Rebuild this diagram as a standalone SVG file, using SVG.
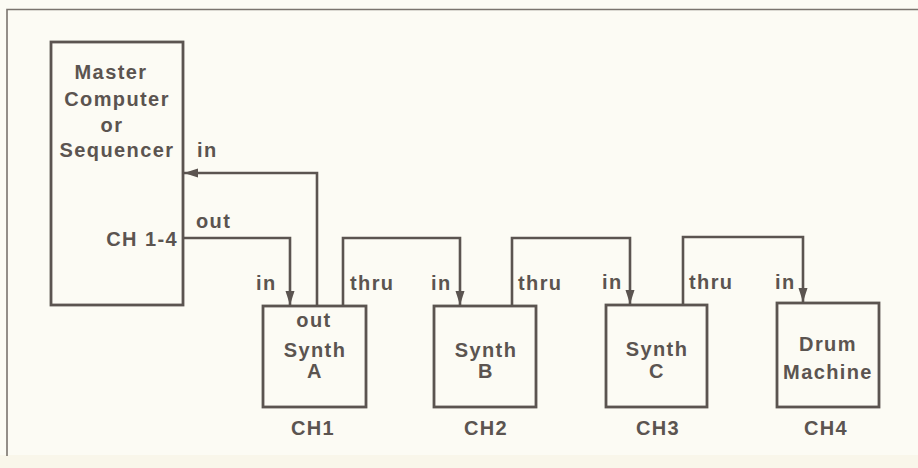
<svg xmlns="http://www.w3.org/2000/svg" width="918" height="468" viewBox="0 0 918 468">
<defs>
<style>
.bg{fill:#fcfbf4}
.frame{fill:none;stroke:#7a746e;stroke-width:1.6}
.box{fill:none;stroke:#5b5450;stroke-width:2.8}
.wire{fill:none;stroke:#5b5450;stroke-width:2.6;stroke-linejoin:miter}
text{font-family:"Liberation Sans",Arial,sans-serif;font-weight:bold;font-size:20px;fill:#5b5450;letter-spacing:1.4px}
.c{text-anchor:middle}
.e{text-anchor:end}
</style>
<marker id="ah" markerUnits="userSpaceOnUse" markerWidth="15" markerHeight="10" refX="14" refY="4.5" orient="auto">
<path d="M0,0 L14,4.5 L0,9 Z" fill="#5b5450"/>
</marker>
</defs>
<rect class="bg" x="0" y="0" width="918" height="468"/>
<rect x="0" y="455" width="918" height="13" fill="#f9f6ea"/>
<path class="frame" d="M7,456 L7,9.5 L918,9.5"/>

<g id="connectors">
<path class="wire" d="M183,238 L290,238 L290,305" marker-end="url(#ah)"/>
<path class="wire" d="M317,306 L317,173 L184,173" marker-end="url(#ah)"/>
<path class="wire" d="M343,306 L343,238 L460,238 L460,305" marker-end="url(#ah)"/>
<path class="wire" d="M512,306 L512,238 L630,238 L630,304" marker-end="url(#ah)"/>
<path class="wire" d="M683,305 L683,237 L803,237 L803,302" marker-end="url(#ah)"/>
<text x="197" y="157">in</text>
<text x="196" y="228">out</text>
<text x="256" y="290">in</text>
<text x="350" y="290">thru</text>
<text x="431" y="290">in</text>
<text x="518" y="290">thru</text>
<text x="602" y="289">in</text>
<text x="689" y="289">thru</text>
<text x="775" y="289">in</text>
</g>

<g id="master">
<rect class="box" x="51" y="42" width="132" height="263"/>
<text class="c" x="111" y="79">Master</text>
<text class="c" x="117" y="106">Computer</text>
<text class="c" x="112" y="132">or</text>
<text class="c" x="117" y="157">Sequencer</text>
<text class="e" x="178" y="246">CH 1-4</text>
</g>

<g id="synthA">
<rect class="box" x="263" y="306" width="103" height="101"/>
<text class="c" x="314" y="327">out</text>
<text class="c" x="315" y="357">Synth</text>
<text class="c" x="315" y="378">A</text>
<text class="c" x="313" y="435">CH1</text>
</g>

<g id="synthB">
<rect class="box" x="434" y="306" width="102" height="101"/>
<text class="c" x="486" y="357">Synth</text>
<text class="c" x="486" y="378">B</text>
<text class="c" x="486" y="435">CH2</text>
</g>

<g id="synthC">
<rect class="box" x="606" y="305" width="101" height="102"/>
<text class="c" x="657" y="356">Synth</text>
<text class="c" x="657" y="378">C</text>
<text class="c" x="658" y="435">CH3</text>
</g>

<g id="drum">
<rect class="box" x="777" y="303" width="102" height="104"/>
<text class="c" x="828" y="351">Drum</text>
<text class="c" x="828" y="379">Machine</text>
<text class="c" x="826" y="435">CH4</text>
</g>
</svg>
